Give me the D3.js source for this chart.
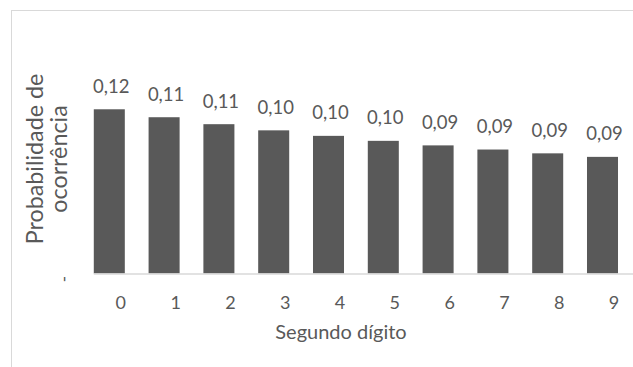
<!DOCTYPE html>
<html><head><meta charset="utf-8">
<script src="https://cdn.jsdelivr.net/npm/d3@7"></script>
<style>body{margin:0;background:#fff}svg{display:block}</style>
</head><body>
<svg id="c" width="633" height="367"></svg>
<script>
const digits = ["0","1","2","3","4","5","6","7","8","9"];
const probabilities = [0.11968, 0.11389, 0.10882, 0.10433, 0.10031, 0.09668, 0.09337, 0.09035, 0.08757, 0.0850];
const yTicks = [0];
const xTitle = "Segundo dígito";
const yTitleLines = ["Probabilidade de", "ocorrência"];

const font = "Lato, 'Open Sans', sans-serif";
const textColor = "#595959";
const svg = d3.select("#c");
const ptBR = d3.formatLocale({decimal: ",", thousands: ".", grouping: [3], currency: ["", ""]});
const fmt = ptBR.format(".2f");

svg.append("rect").attr("x", 11.5).attr("y", 10.5).attr("width", 700).attr("height", 500)
  .attr("fill", "#fff").attr("stroke", "#d9d9d9");

const x = d3.scaleBand().domain(digits).range([81.9, 629.9]).paddingInner(0.434).paddingOuter(0.217);
const y = d3.scaleLinear().domain([0, 0.14]).range([273.5, 81.4]);

svg.append("g").selectAll("rect").data(probabilities).join("rect")
  .attr("x", (d, i) => x(digits[i]))
  .attr("y", d => y(d))
  .attr("width", x.bandwidth())
  .attr("height", d => y(0) - y(d))
  .attr("fill", "#595959");

svg.append("line").attr("x1", x(digits[0])).attr("x2", 633)
  .attr("y1", y(0) + 0.5).attr("y2", y(0) + 0.5).attr("stroke", "#d9d9d9").attr("stroke-width", 1.5);

svg.append("g").selectAll("text").data(probabilities).join("text")
  .attr("x", (d, i) => x(digits[i]) + x.bandwidth() / 2 + 2)
  .attr("y", d => y(d) - 16.6)
  .attr("text-anchor", "middle")
  .attr("font-family", font).attr("font-size", 18.5).attr("fill", textColor)
  .text(d => fmt(d));

const xAxis = d3.axisBottom(x).tickSize(0).tickPadding(0);
const gx = svg.append("g").attr("transform", `translate(11.5,0)`).call(xAxis);
gx.select(".domain").remove();
gx.selectAll("text").attr("y", 309).attr("dy", 0)
  .attr("font-family", font).attr("font-size", 18).attr("fill", textColor);

svg.append("g").selectAll("text").data(yTicks).join("text")
  .attr("transform", d => `translate(70,${y(d) + 5.5}) rotate(-90)`)
  .attr("text-anchor", "middle")
  .attr("font-family", font).attr("font-size", 17).attr("fill", textColor)
  .text("-");

svg.append("text").attr("x", 341).attr("y", 339.3).attr("text-anchor", "middle")
  .attr("font-family", font).attr("font-size", 20).attr("fill", textColor).text(xTitle);

svg.append("g").selectAll("text").data(yTitleLines).join("text")
  .attr("transform", (d, i) => `translate(${43.3 + i * 24},159) rotate(-90)`)
  .attr("text-anchor", "middle")
  .attr("font-family", font).attr("font-size", 23.3).attr("fill", textColor)
  .text(d => d);
</script>
</body></html>
